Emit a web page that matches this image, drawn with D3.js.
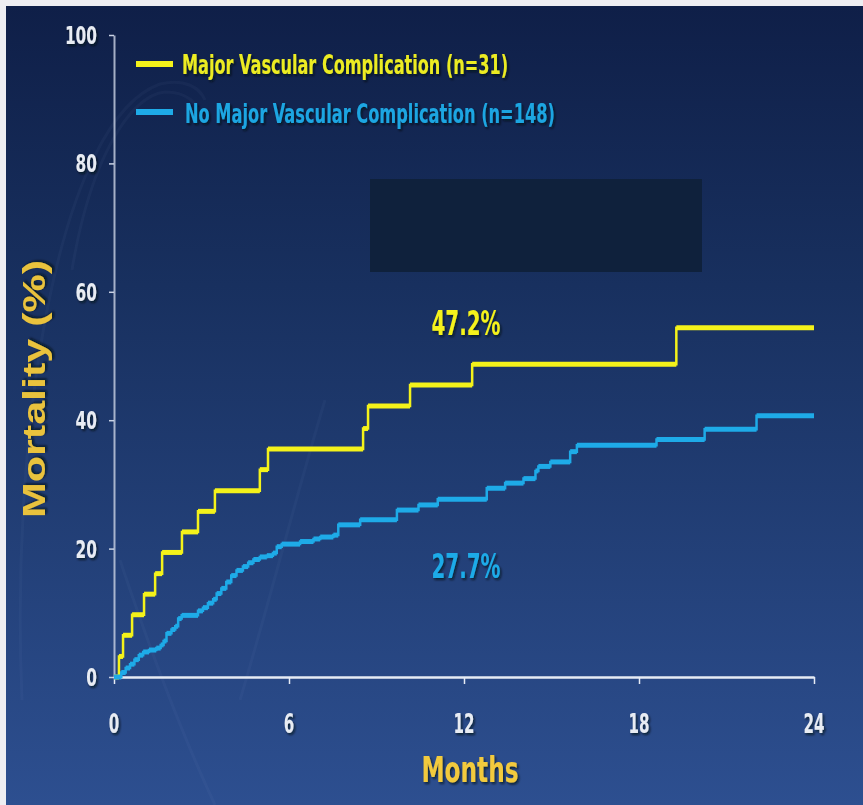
<!DOCTYPE html>
<html>
<head>
<meta charset="utf-8">
<script src="https://cdn.jsdelivr.net/npm/d3@7"></script>
<style>
  html, body { margin: 0; padding: 0; background: #ffffff; }
  svg { display: block; }
</style>
</head>
<body>
<svg id="chart" width="863" height="805"></svg>
<script>
// Kaplan-Meier mortality curves: [month, cumulative mortality %]
const majorVascular = [
  [0, 0], [0.17, 3.2], [0.31, 6.5], [0.62, 9.7], [1.03, 12.9], [1.41, 16.1],
  [1.65, 19.4], [2.33, 22.6], [2.88, 25.8], [3.46, 29.0], [5.0, 32.3],
  [5.28, 35.5], [8.54, 38.7], [8.71, 42.2], [10.15, 45.5], [12.28, 48.7],
  [19.28, 54.4], [24, 54.4]
];
const noMajorVascular = [
  [0, 0], [0.25, 0.7], [0.4, 1.4], [0.55, 2.0], [0.7, 2.7], [0.85, 3.4],
  [1.0, 3.9], [1.2, 4.2], [1.45, 4.5], [1.6, 5.0], [1.7, 5.6], [1.8, 6.8],
  [1.97, 7.4], [2.1, 7.9], [2.2, 9.1], [2.32, 9.6], [2.88, 10.3], [3.05, 10.8],
  [3.22, 11.5], [3.4, 12.1], [3.52, 13.0], [3.68, 13.8], [3.85, 14.8],
  [4.02, 15.8], [4.2, 16.6], [4.42, 17.2], [4.6, 17.8], [4.78, 18.3],
  [5.0, 18.7], [5.24, 18.9], [5.45, 19.3], [5.58, 20.3], [5.75, 20.7],
  [6.38, 21.1], [6.84, 21.5], [7.07, 21.8], [7.52, 22.1], [7.69, 23.7],
  [8.44, 24.5], [9.7, 26.0], [10.44, 26.8], [11.1, 27.7], [12.78, 29.4],
  [13.41, 30.2], [14.04, 30.9], [14.45, 32.1], [14.55, 32.8], [14.96, 33.5],
  [15.64, 35.1], [15.87, 36.1], [18.6, 37.0], [20.25, 38.6], [22.03, 40.7],
  [24, 40.7]
];
const seriesNames = ["Major Vascular Complication (n=31)", "No Major Vascular Complication (n=148)"];
const seriesColors = ["#f4f21a", "#1eabe8"];
const landmarkLabels = ["47.2%", "27.7%"];
const xTicks = [0, 6, 12, 18, 24];
const yTicks = [0, 20, 40, 60, 80, 100];

const svg = d3.select("#chart");
const W = 863, H = 805;
const narrow = '"Liberation Sans Narrow", "Arial Narrow", "DejaVu Sans Condensed", sans-serif';
const wide = '"Liberation Sans", Arial, "DejaVu Sans", sans-serif';

const defs = svg.append("defs");
const bg = defs.append("linearGradient").attr("id", "bg").attr("x1", 0).attr("y1", 0).attr("x2", 0).attr("y2", 1);
bg.append("stop").attr("offset", "0%").attr("stop-color", "#0f1f48");
bg.append("stop").attr("offset", "35%").attr("stop-color", "#18305f");
bg.append("stop").attr("offset", "100%").attr("stop-color", "#2d4f90");
const sh = defs.append("filter").attr("id", "shadow").attr("x", "-10%").attr("y", "-10%").attr("width", "130%").attr("height", "140%");
sh.append("feDropShadow").attr("dx", 1.5).attr("dy", 2).attr("stdDeviation", 1)
  .attr("flood-color", "#000814").attr("flood-opacity", 0.7);

// slide background inside a thin light frame
svg.append("rect").attr("width", W).attr("height", H).attr("fill", "#eeeef2");
svg.append("rect").attr("x", 6).attr("y", 6).attr("width", W - 6).attr("height", H - 6).attr("fill", "url(#bg)");

// faint decorative swooshes
const deco = svg.append("g").attr("fill", "none").attr("stroke", "#9fb6e6").attr("stroke-opacity", 0.045).attr("stroke-width", 3);
deco.append("path").attr("d", "M 22 700 C 10 420, 60 120, 160 84 C 185 78, 200 88, 205 100");
deco.append("path").attr("d", "M 72 270 C 90 160, 130 95, 165 92 C 180 92, 190 98, 195 104");
deco.append("path").attr("d", "M 325 400 C 295 500, 270 600, 240 700");
deco.append("path").attr("d", "M 120 560 C 150 650, 180 730, 215 805");

const x = d3.scaleLinear().domain([0, 24]).range([114, 814]);
const y = d3.scaleLinear().domain([0, 100]).range([677, 35]);

// redaction box over the plot area
svg.append("rect").attr("x", 370).attr("y", 179).attr("width", 332).attr("height", 93).attr("fill", "#0f213c");

// axes
const axisColor = "#c9d2e4";
const yAxis = svg.append("g").attr("transform", `translate(${x(0)},0)`)
  .call(d3.axisLeft(y).tickValues(yTicks).tickSize(5).tickSizeOuter(0).tickFormat(""));
yAxis.select(".domain").attr("stroke", axisColor).attr("stroke-width", 2).attr("stroke-opacity", 0.8);
yAxis.selectAll(".tick line").attr("stroke", axisColor).attr("stroke-width", 1.5);

const xAxis = svg.append("g").attr("transform", `translate(0,${y(0)})`)
  .call(d3.axisBottom(x).tickValues(xTicks).tickSize(7).tickSizeOuter(0).tickFormat(""));
xAxis.select(".domain").attr("stroke", "#e6ebf4").attr("stroke-width", 2.5);
xAxis.selectAll(".tick line").attr("stroke", "#e6ebf4").attr("stroke-width", 1.5);

// tick labels
svg.append("g").selectAll("text").data(yTicks).join("text")
  .attr("x", 97).attr("y", d => y(d) + 9)
  .attr("text-anchor", "end")
  .attr("font-family", narrow).attr("font-weight", "bold").attr("font-size", 25)
  .attr("fill", "#e8ecf3").attr("filter", "url(#shadow)")
  .attr("textLength", d => String(d).length * 10.7).attr("lengthAdjust", "spacingAndGlyphs")
  .text(d => d);

svg.append("g").selectAll("text").data(xTicks).join("text")
  .attr("x", d => x(d)).attr("y", 733)
  .attr("text-anchor", "middle")
  .attr("font-family", narrow).attr("font-weight", "bold").attr("font-size", 27)
  .attr("fill", "#e8ecf3").attr("filter", "url(#shadow)")
  .attr("textLength", d => String(d).length * 10.5).attr("lengthAdjust", "spacingAndGlyphs")
  .text(d => d);

// axis titles
svg.append("text")
  .attr("x", 470).attr("y", 782).attr("text-anchor", "middle")
  .attr("font-family", narrow).attr("font-weight", "bold").attr("font-size", 35)
  .attr("fill", "#f2ca3e").attr("filter", "url(#shadow)")
  .attr("textLength", 97).attr("lengthAdjust", "spacingAndGlyphs")
  .text("Months");

svg.append("text")
  .attr("transform", "translate(45,389) rotate(-90)")
  .attr("text-anchor", "middle")
  .attr("font-family", wide).attr("font-weight", "bold").attr("font-size", 31)
  .attr("fill", "#e9c23c").attr("filter", "url(#shadow)")
  .attr("textLength", 258).attr("lengthAdjust", "spacingAndGlyphs")
  .text("Mortality (%)");

// step curves: thin risers plus heavier horizontal runs
const stepLine = d3.line().x(d => x(d[0])).y(d => y(d[1])).curve(d3.curveStepAfter);
[majorVascular, noMajorVascular].forEach((data, i) => {
  const g = svg.append("g");
  g.append("path").datum(data).attr("d", stepLine)
    .attr("fill", "none").attr("stroke", seriesColors[i]).attr("stroke-width", 2.5);
  g.selectAll("line").data(d3.pairs(data)).join("line")
    .attr("x1", d => x(d[0][0])).attr("x2", d => x(d[1][0]))
    .attr("y1", d => y(d[0][1])).attr("y2", d => y(d[0][1]))
    .attr("stroke", seriesColors[i]).attr("stroke-width", 5);
});

// 12-month landmark labels
const labelPos = [[12, 335], [12, 578]];
svg.append("g").selectAll("text").data(landmarkLabels).join("text")
  .attr("x", (d, i) => x(labelPos[i][0]) + 2).attr("y", (d, i) => labelPos[i][1])
  .attr("text-anchor", "middle")
  .attr("font-family", narrow).attr("font-weight", "bold").attr("font-size", 33)
  .attr("fill", (d, i) => seriesColors[i]).attr("filter", "url(#shadow)")
  .attr("textLength", 69).attr("lengthAdjust", "spacingAndGlyphs")
  .text(d => d);

// legend
const legendY = [64, 112];
const legendBase = [74, 123];
const legendTextX = [182, 185];
const legendW = [326, 370];
const lg = svg.append("g");
seriesNames.forEach((name, i) => {
  lg.append("line").attr("x1", 136).attr("x2", 173).attr("y1", legendY[i]).attr("y2", legendY[i])
    .attr("stroke", seriesColors[i]).attr("stroke-width", 6);
  lg.append("text").attr("x", legendTextX[i]).attr("y", legendBase[i])
    .attr("font-family", narrow).attr("font-weight", "bold").attr("font-size", 26)
    .attr("fill", i === 0 ? "#ecec22" : "#1ea6e2").attr("filter", "url(#shadow)")
    .attr("textLength", legendW[i]).attr("lengthAdjust", "spacingAndGlyphs")
    .text(name);
});
</script>
</body>
</html>
